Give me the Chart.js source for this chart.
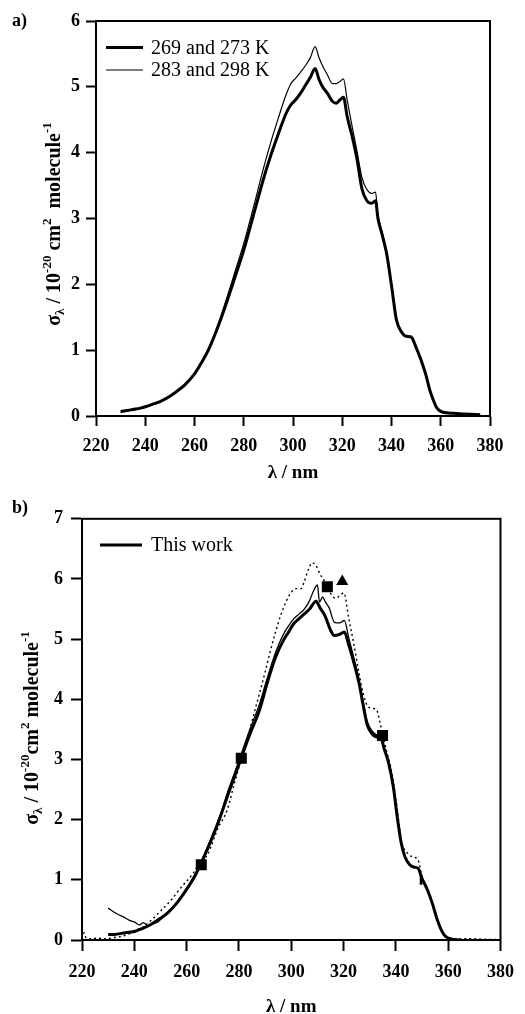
<!DOCTYPE html>
<html><head><meta charset="utf-8">
<script src="https://cdn.jsdelivr.net/npm/chart.js@4"></script>
<style>
html,body{margin:0;padding:0;background:#fff;}
#wrap{position:relative;width:525px;height:1014px;overflow:hidden;}
canvas{position:absolute;left:0;}
</style></head><body>
<div id="wrap">
<canvas id="ca" width="525" height="500" style="top:0px"></canvas>
<canvas id="cb" width="525" height="514" style="top:500px"></canvas>
</div>
<script>
// ---------- Panel a data: [lambda (nm), sigma (1e-20 cm2/molecule)] ----------
const legendA = ["269 and 273 K", "283 and 298 K"];
const coldA = [[230,0.07],[232,0.08],[235,0.10],[238,0.12],[240,0.14],[243,0.18],[246,0.22],[250,0.30],[253,0.38],[256,0.47],[260,0.64],[263,0.82],[266,1.03],[270,1.40],[273,1.72],[276,2.06],[280,2.52],[284,3.06],[288,3.60],[291,3.96],[294,4.28],[297,4.58],[299,4.72],[301,4.80],[303,4.90],[305,5.02],[307,5.14],[309,5.28],[310.5,5.12],[312,5.00],[314,4.90],[316,4.78],[317.5,4.75],[319,4.80],[320.5,4.84],[322,4.55],[324,4.25],[326,3.90],[328,3.45],[330,3.27],[332,3.23],[333.5,3.27],[334.5,3.00],[336,2.78],[338,2.47],[340,1.98],[342,1.46],[344,1.28],[346,1.21],[348,1.20],[350,1.04],[352,0.85],[354,0.62],[355.5,0.40],[357,0.24],[358.3,0.13],[360,0.07],[362,0.05],[365,0.04],[370,0.03],[376,0.02]];
const warmA = [[230,0.06],[232,0.07],[235,0.09],[238,0.11],[240,0.13],[243,0.17],[246,0.21],[250,0.29],[253,0.37],[256,0.47],[260,0.64],[263,0.83],[266,1.05],[270,1.44],[273,1.78],[276,2.14],[280,2.62],[284,3.18],[288,3.76],[291,4.16],[294,4.52],[297,4.86],[299,5.04],[301,5.13],[303,5.22],[305,5.32],[307,5.44],[309,5.61],[310.5,5.45],[312,5.32],[314,5.18],[316,5.05],[317.5,5.05],[319,5.08],[320.5,5.12],[322,4.80],[324,4.40],[326,4.02],[328,3.62],[330,3.44],[332,3.38],[333.5,3.40],[334.5,3.05],[336,2.82],[338,2.50],[340,2.00],[342,1.48],[344,1.28],[346,1.21],[348,1.19],[350,1.02],[352,0.84],[354,0.60],[355.5,0.38],[357,0.22],[358.3,0.12],[360,0.07],[362,0.06],[364,0.05],[366,0.04],[370,0.03],[376,0.02]];

// ---------- Panel b data ----------
const legendB = ["This work"];
const workB = [[230,0.09],[232,0.09],[235,0.11],[238,0.13],[240,0.14],[243,0.19],[246,0.25],[250,0.36],[253,0.46],[256,0.60],[260,0.84],[263,1.05],[266,1.32],[270,1.72],[273,2.06],[276,2.44],[280,2.92],[284,3.40],[288,3.84],[291,4.30],[294,4.70],[297,4.98],[299,5.12],[301,5.26],[303,5.34],[305,5.42],[307,5.50],[309.5,5.63],[311,5.52],[313,5.38],[315,5.15],[316.5,5.06],[318.5,5.08],[320.3,5.12],[322,4.90],[324,4.60],[326,4.25],[327.5,3.90],[329,3.58],[331,3.42],[333,3.37],[334.5,3.34],[335.5,3.18],[337,2.98],[339,2.55],[340.5,2.05],[342,1.62],[343.5,1.38],[345.3,1.25],[347,1.21],[348.5,1.19],[350,1.02],[352,0.84],[354,0.60],[355.5,0.38],[357,0.20],[358.5,0.08],[360,0.03],[362,0.01],[364,0.00]];
const otherB = [[230,0.53],[232,0.47],[234,0.42],[236,0.38],[238,0.33],[240,0.30],[242,0.25],[243.5,0.29],[245,0.24],[247,0.27],[249,0.30],[251,0.39],[253,0.47],[256,0.61],[260,0.86],[263,1.08],[266,1.35],[270,1.76],[273,2.10],[276,2.50],[280,2.98],[284,3.48],[288,3.94],[291,4.38],[294,4.78],[297,5.08],[299,5.22],[301,5.34],[303,5.42],[305,5.50],[307,5.64],[308.5,5.80],[310,5.90],[310.8,5.62],[312,5.70],[313,5.62],[314.5,5.52],[316.5,5.28],[318.5,5.27],[320.3,5.31],[322,5.02],[324,4.68],[326,4.32],[327.5,3.96],[329,3.64],[331,3.47],[333,3.40],[334.5,3.36],[335.5,3.20],[337,2.99],[339,2.56],[340.5,2.06],[342,1.63],[343.5,1.39],[345.3,1.26],[347,1.22],[348.5,1.20],[350,1.03],[352,0.85],[354,0.61],[355.5,0.39],[357,0.21],[358.5,0.09],[360,0.03],[362,0.01]];
const dottedB = [[220,0.02],[220.8,0.12],[221.5,0.04],[223,0.02],[226,0.03],[229,0.02],[232,0.04],[235,0.06],[238,0.10],[240,0.15],[243,0.21],[246,0.31],[250,0.48],[254,0.66],[258,0.88],[262,1.08],[265,1.28],[268,1.42],[272,1.86],[275.5,2.16],[278,2.56],[281,3.02],[283,3.32],[286,3.80],[288,4.12],[290,4.45],[292,4.80],[294,5.12],[296,5.40],[298,5.62],[300,5.78],[302,5.84],[303.7,5.84],[305,5.96],[306.5,6.15],[308,6.27],[309.5,6.22],[311,6.08],[312.5,5.98],[314,5.84],[316.9,5.68],[318.5,5.72],[320.1,5.77],[322,5.34],[324,4.90],[325.8,4.46],[327.5,4.10],[329,3.90],[331,3.85],[332.7,3.82],[334,3.60],[336.5,3.13],[338,2.88],[340,2.35],[342.2,1.64],[344.7,1.43],[346.5,1.38],[348.5,1.33],[350,1.06],[352,0.84],[354,0.60],[356,0.33],[357.5,0.15],[359,0.06],[361,0.03],[365,0.02],[370,0.02],[375,0.01],[379,0.01]];
const squaresB = [[265.6,1.25],[280.9,3.02],[313.8,5.87],[334.9,3.40]];
const trianglesB = [[319.5,5.96]];
const dashB = [[349.6,1.0]];

// ---------- Axis ticks ----------
const xTickStep = 20, xMin = 220, xMax = 380;
const yMaxA = 6, yMaxB = 7;

const pts = arr => arr.map(p => ({x: p[0], y: p[1]}));
const FONT = '"Liberation Serif", "Times New Roman", serif';

function drawYTitle(ctx, baseX, centerY, parts) {
  ctx.save();
  ctx.translate(baseX, centerY);
  ctx.rotate(-Math.PI / 2);
  ctx.textBaseline = 'alphabetic'; ctx.textAlign = 'left'; ctx.fillStyle = '#000';
  let w = 0;
  parts.forEach(p => { ctx.font = `bold ${p.s}px ${FONT}`; p.w = ctx.measureText(p.t).width; w += p.w; });
  let x = -w / 2;
  parts.forEach(p => { ctx.font = `bold ${p.s}px ${FONT}`; ctx.fillText(p.t, x, p.dy); x += p.w; });
  ctx.restore();
}

const deco = {
  id: 'deco',
  afterDraw(chart, args, o) {
    const ctx = chart.ctx, a = chart.chartArea;
    ctx.save();
    ctx.strokeStyle = '#000'; ctx.lineWidth = 2;
    ctx.strokeRect(a.left, a.top, a.right - a.left, a.bottom - a.top);
    ctx.fillStyle = '#000';
    ctx.font = `bold 18px ${FONT}`;
    ctx.textAlign = 'left'; ctx.textBaseline = 'alphabetic';
    ctx.fillText(o.panel, o.panelX, o.panelY);
    ctx.font = `bold 19px ${FONT}`; ctx.textAlign = 'center';
    ctx.fillText('λ / nm', (a.left + a.right) / 2, o.xTitleY);
    drawYTitle(ctx, o.yTitleX, o.yTitleY, o.yParts);
    ctx.font = `20px ${FONT}`; ctx.textAlign = 'left'; ctx.textBaseline = 'middle';
    o.legend.forEach((dsIndex, i) => {
      const ds = chart.data.datasets[dsIndex];
      const y = o.legY + i * o.legGap;
      ctx.lineWidth = ds.borderWidth; ctx.setLineDash([]);
      ctx.beginPath(); ctx.moveTo(o.legX1, y); ctx.lineTo(o.legX2, y); ctx.stroke();
      ctx.fillText(ds.label, o.legTX, y + 1);
    });
    ctx.restore();
  }
};

function scales(yMax, yWidth, xHeight, tickLen, xPad, yPad) {
  const tickFont = {family: FONT, weight: 'bold', size: 18};
  const grid = {drawOnChartArea: false, drawTicks: true, tickLength: tickLen, tickWidth: 2, tickColor: '#000'};
  return {
    x: {type: 'linear', min: xMin, max: xMax,
        ticks: {stepSize: xTickStep, font: tickFont, color: '#000', padding: xPad, maxRotation: 0, autoSkip: false},
        grid: grid, border: {display: true, width: 2, color: '#000'},
        afterFit(s) { s.height = xHeight; }},
    y: {type: 'linear', min: 0, max: yMax,
        ticks: {stepSize: 1, font: tickFont, color: '#000', padding: yPad},
        grid: grid, border: {display: true, width: 2, color: '#000'},
        afterFit(s) { s.width = yWidth; }}
  };
}

const common = {
  responsive: false, animation: false, devicePixelRatio: 1,
  plugins: {legend: {display: false}, tooltip: {enabled: false}},
  elements: {point: {radius: 0}, line: {cubicInterpolationMode: 'monotone'}}
};

new Chart(document.getElementById('ca'), {
  type: 'line',
  data: {datasets: [
    {label: legendA[0], data: pts(coldA), borderColor: '#000', borderWidth: 3, pointRadius: 0, fill: false},
    {label: legendA[1], data: pts(warmA), borderColor: '#000', borderWidth: 1.2, pointRadius: 0, fill: false}
  ]},
  options: Object.assign({}, common, {
    layout: {padding: {top: 21, right: 35, left: 0, bottom: 0}},
    scales: scales(yMaxA, 96, 84, 10, 10, 6),
    plugins: Object.assign({}, common.plugins, {deco: {
      panel: 'a)', panelX: 12, panelY: 26, xTitleY: 478,
      yTitleX: 60, yTitleY: 224,
      yParts: [{t:'σ',s:20,dy:0},{t:'λ',s:13,dy:4},{t:' / 10',s:20,dy:0},{t:'-20',s:13,dy:-9},{t:' cm',s:20,dy:0},{t:'2',s:13,dy:-9},{t:'  molecule',s:20,dy:0},{t:'-1',s:13,dy:-9}],
      legend: [0, 1], legY: 47.5, legGap: 22.5, legX1: 106, legX2: 143, legTX: 151
    }})
  }),
  plugins: [deco]
});

new Chart(document.getElementById('cb'), {
  type: 'line',
  data: {datasets: [
    {label: legendB[0], data: pts(workB), borderColor: '#000', borderWidth: 3, pointRadius: 0, fill: false},
    {label: 'other', data: pts(otherB), borderColor: '#000', borderWidth: 1.3, pointRadius: 0, fill: false},
    {label: 'dotted', data: pts(dottedB), borderColor: '#000', borderWidth: 1.4, borderDash: [2, 3], pointRadius: 0, fill: false},
    {label: 'squares', data: pts(squaresB), showLine: false, pointStyle: 'rect', pointRadius: 7.8, pointBackgroundColor: '#000', pointBorderWidth: 0, borderColor: '#000'},
    {label: 'triangles', data: pts(trianglesB), showLine: false, pointStyle: 'triangle', pointRadius: 7, pointBackgroundColor: '#000', pointBorderWidth: 0, borderColor: '#000'},
    {label: 'dash', data: pts(dashB), showLine: false, pointStyle: 'line', pointRotation: 90, pointRadius: 5, pointBorderWidth: 2.5, pointBorderColor: '#000', borderColor: '#000'}
  ]},
  options: Object.assign({}, common, {
    layout: {padding: {top: 18, right: 19, left: 0, bottom: 0}},
    scales: scales(yMaxB, 82, 74, 11, 11, 8),
    plugins: Object.assign({}, common.plugins, {deco: {
      panel: 'b)', panelX: 12, panelY: 13, xTitleY: 512,
      yTitleX: 38, yTitleY: 228,
      yParts: [{t:'σ',s:20,dy:0},{t:'λ',s:13,dy:4},{t:' / 10',s:20,dy:0},{t:'-20',s:13,dy:-9},{t:'cm',s:20,dy:0},{t:'2',s:13,dy:-9},{t:' molecule',s:20,dy:0},{t:'-1',s:13,dy:-9}],
      legend: [0], legY: 45, legGap: 22.5, legX1: 100, legX2: 142, legTX: 151
    }})
  }),
  plugins: [deco]
});
</script>
</body></html>
